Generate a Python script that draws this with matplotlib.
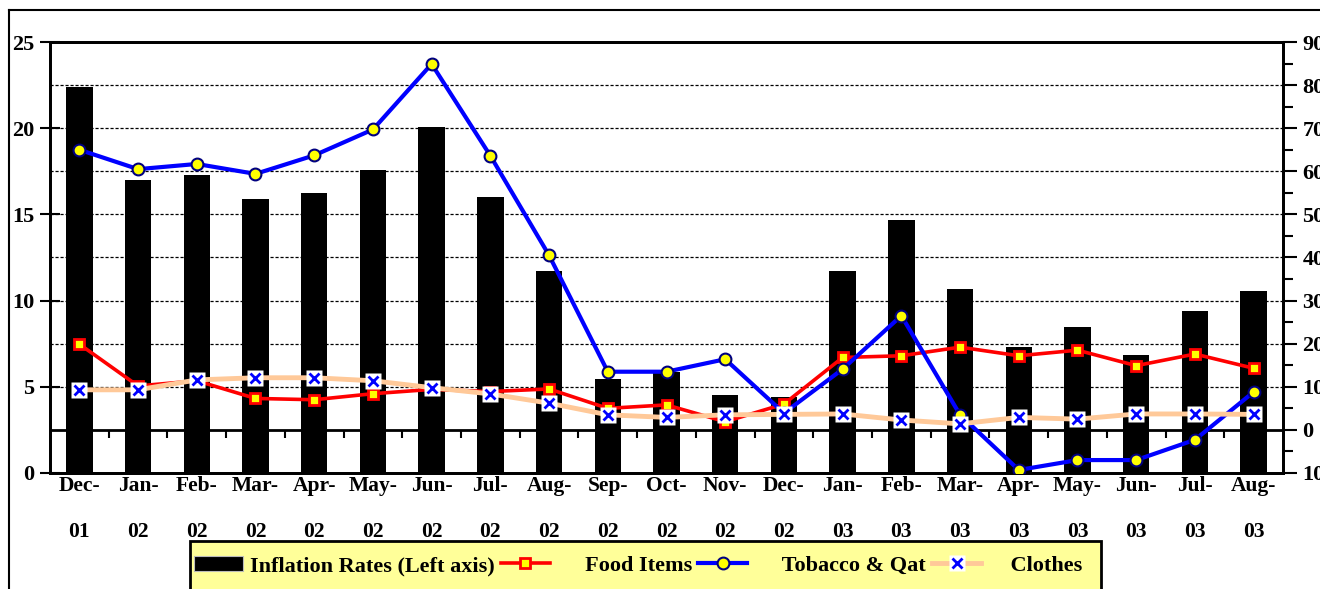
import matplotlib
matplotlib.use("Agg")
import matplotlib.pyplot as plt
from matplotlib.lines import Line2D
from matplotlib.patches import Patch, Rectangle
from matplotlib.legend_handler import HandlerTuple
import numpy as np

# ---- data ----
months = ["Dec-\n01", "Jan-\n02", "Feb-\n02", "Mar-\n02", "Apr-\n02", "May-\n02", "Jun-\n02",
          "Jul-\n02", "Aug-\n02", "Sep-\n02", "Oct-\n02", "Nov-\n02", "Dec-\n02", "Jan-\n03",
          "Feb-\n03", "Mar-\n03", "Apr-\n03", "May-\n03", "Jun-\n03", "Jul-\n03", "Aug-\n03"]
inflation = [22.4, 17.0, 17.3, 15.9, 16.25, 17.6, 20.05, 16.0, 11.7, 5.43, 5.88, 4.52, 4.39,
             11.7, 14.7, 10.65, 7.29, 8.45, 6.83, 9.38, 10.54]
food = [19.9, 10.2, 11.4, 7.3, 7.0, 8.4, 9.4, 8.9, 9.5, 5.0, 5.8, 1.9, 6.0,
        16.8, 17.2, 19.2, 17.2, 18.5, 14.9, 17.6, 14.3]
tobacco = [65.0, 60.5, 61.7, 59.4, 63.7, 69.7, 84.9, 63.6, 40.5, 13.5, 13.5, 16.4, 3.9,
           14.1, 26.5, 3.5, -9.3, -7.0, -7.0, -2.3, 8.8]
clothes = [9.3, 9.3, 11.6, 12.1, 12.1, 11.4, 9.8, 8.35, 6.2, 3.5, 2.9, 3.5, 3.6,
           3.7, 2.3, 1.4, 2.9, 2.5, 3.7, 3.7, 3.6]
left_ticks = [0, 5, 10, 15, 20, 25]
right_ticks = [-10, 0, 10, 20, 30, 40, 50, 60, 70, 80, 90]
right_labels = ["10", "0", "10", "20", "30", "40", "50", "60", "70", "80", "90"]
legend_labels = ["Inflation Rates (Left axis)", "     Food Items", "     Tobacco & Qat", "    Clothes"]

plt.rcParams['font.family'] = ['Liberation Serif', 'DejaVu Serif']
plt.rcParams['font.weight'] = 'bold'

W, H = 1320, 589
fig = plt.figure(figsize=(W / 100, H / 100), dpi=100)
ax1 = fig.add_axes([50 / W, 1 - 473 / H, (1283 - 50) / W, (473 - 42) / H])
ax2 = ax1.twinx()

x = np.arange(len(months))

# bars (left axis)
ax1.bar(x, inflation, width=0.45, color='black', zorder=2)
ax1.set_xlim(-0.5, len(months) - 0.5)
ax1.set_ylim(0, 25)
ax1.set_yticks(left_ticks)
ax1.set_xticks(x)
ax1.set_xticklabels(months, fontsize=15.5, fontweight='bold', linespacing=2.75)
ax1.tick_params(axis='x', length=0, pad=2)
ax1.tick_params(axis='y', direction='inout', length=15, width=1.5, labelsize=16, pad=4)

# right axis
ax2.set_ylim(-10, 90)
ax2.set_yticks(right_ticks)
ax2.set_yticklabels(right_labels)
ax2.set_yticks(np.arange(-5, 90, 10), minor=True)
ax2.tick_params(axis='y', which='major', direction='out', length=10, width=1.5, labelsize=16, pad=4)
ax2.tick_params(axis='y', which='minor', direction='out', length=7, width=1.5)

for v in right_ticks[2:-1]:
    ax2.axhline(v, color='black', lw=0.9, ls=(0, (2.5, 1.5)), zorder=1)
ax2.axhline(0, color='black', lw=2, zorder=1)
ax2.vlines(x[:-1] + 0.5, -1.9, 0, color='black', lw=1.5, zorder=1)

# lines (right axis)
l_food, = ax2.plot(x, food, color='#FF0000', lw=2.6, marker='s', ms=7.5,
                   mfc='#FFFF00', mec='#FF0000', mew=2, zorder=3)
l_tob, = ax2.plot(x, tobacco, color='#0000FF', lw=3, marker='o', ms=8.5,
                  mfc='#FFFF00', mec='#000080', mew=1.5, zorder=4)
l_clo, = ax2.plot(x, clothes, color='#FFC999', lw=3.5, marker='s', ms=11,
                  mfc='white', mec='none', zorder=5)
l_clox, = ax2.plot(x, clothes, ls='none', marker='x', ms=7, mec='#0000FF', mew=2, zorder=6)

for ax in (ax1, ax2):
    for s in ax.spines.values():
        s.set_linewidth(2)
        s.set_color('black')

# outer frame (partially visible)
fig.add_artist(Line2D([9 / W, 9 / W], [0, 1 - 10 / H], color='black', lw=1.5))
fig.add_artist(Line2D([9 / W, 1], [1 - 10 / H, 1 - 10 / H], color='black', lw=1.5))

# legend box
fig.add_artist(Rectangle((190 / W, -0.05), (1101 - 190) / W, 0.05 + (589 - 541) / H,
                         transform=fig.transFigure, facecolor='#FFFF99', edgecolor='black',
                         lw=2, zorder=1))
h_bar = Patch(facecolor='black', edgecolor='#bbbbbb', lw=0.8)
h_clo = Line2D([], [], color='#FFC999', lw=3.5, marker='s', ms=11, mfc='white', mec='none')
h_clox = Line2D([], [], ls='none', marker='x', ms=7, mec='#0000FF', mew=2)
leg = fig.legend([h_bar, l_food, l_tob, (h_clo, h_clox)], legend_labels,
                 loc='center left', bbox_to_anchor=(194 / W, 1 - 566 / H),
                 ncol=4, frameon=False, fontsize=16, handlelength=2.2,
                 handletextpad=0.3, columnspacing=0.3, borderpad=0, borderaxespad=0,
                 handler_map={tuple: HandlerTuple(ndivide=1)})
leg.set_zorder(3)
for t in leg.get_texts():
    t.set_fontweight('bold')

fig.savefig('out.png', dpi=100)
